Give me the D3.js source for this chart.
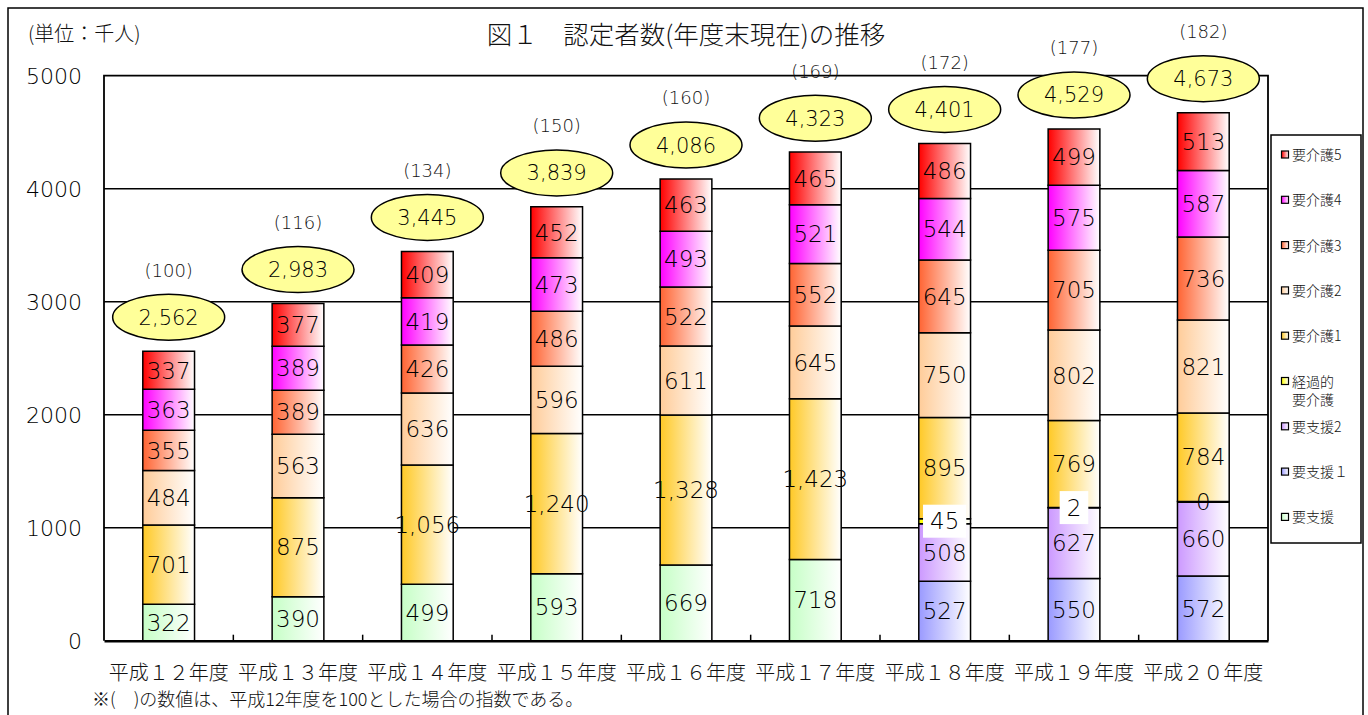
<!DOCTYPE html>
<html lang="ja">
<head>
<meta charset="utf-8">
<title>図１ 認定者数の推移</title>
<script src="https://cdn.jsdelivr.net/npm/d3@7/dist/d3.min.js"></script>
<style>
  html, body { margin: 0; padding: 0; background: #fff; }
  svg { display: block; }
  .jp { font-family: "Noto Sans CJK JP", "Noto Sans", sans-serif; font-weight: 300; }
  .num { font-family: "DejaVu Sans", "Noto Sans", sans-serif; font-weight: 300; }
</style>
</head>
<body>
<svg id="chart" width="1368" height="715"></svg>
<script>
/* ============================================================
   図１ 認定者数(年度末現在)の推移 — stacked bars
   ============================================================ */
const years = ['平成１２年度', '平成１３年度', '平成１４年度', '平成１５年度', '平成１６年度',
  '平成１７年度', '平成１８年度', '平成１９年度', '平成２０年度'];

// values in 千人, bottom to top of each bar (null = category not in use that year)
const yoshien  = [322, 390, 499, 593, 669, 718, null, null, null];
const yoshien1 = [null, null, null, null, null, null, 527, 550, 572];
const yoshien2 = [null, null, null, null, null, null, 508, 627, 660];
const keika    = [null, null, null, null, null, null, 45, 2, 0];
const kaigo1   = [701, 875, 1056, 1240, 1328, 1423, 895, 769, 784];
const kaigo2   = [484, 563, 636, 596, 611, 645, 750, 802, 821];
const kaigo3   = [355, 389, 426, 486, 522, 552, 645, 705, 736];
const kaigo4   = [363, 389, 419, 473, 493, 521, 544, 575, 587];
const kaigo5   = [337, 377, 409, 452, 463, 465, 486, 499, 513];

// totals and index as printed on the chart
const totals  = [2562, 2983, 3445, 3839, 4086, 4323, 4401, 4529, 4673];
const indexes = [100, 116, 134, 150, 160, 169, 172, 177, 182];

const yTicks = [0, 1000, 2000, 3000, 4000, 5000];

const series = [
  { key: 'yoshien',  name: '要支援',   values: yoshien,  color: '#c6ffc6' },
  { key: 'yoshien1', name: '要支援１', values: yoshien1, color: '#9a9aff' },
  { key: 'yoshien2', name: '要支援2',  values: yoshien2, color: '#cc99ff' },
  { key: 'keika',    name: '経過的要介護', values: keika, color: '#ffff00' },
  { key: 'kaigo1',   name: '要介護1',  values: kaigo1,   color: '#ffc926' },
  { key: 'kaigo2',   name: '要介護2',  values: kaigo2,   color: '#ffcc99' },
  { key: 'kaigo3',   name: '要介護3',  values: kaigo3,   color: '#ff6433' },
  { key: 'kaigo4',   name: '要介護4',  values: kaigo4,   color: '#ff00ff' },
  { key: 'kaigo5',   name: '要介護5',  values: kaigo5,   color: '#ff0000' },
];

const plot = { left: 104, right: 1268, top: 75.7, bottom: 640.7 };

const svg = d3.select('#chart');

// outer frame
svg.append('rect')
  .attr('x', 8).attr('y', 8).attr('width', 1355).attr('height', 720)
  .attr('fill', '#fff').attr('stroke', '#000').attr('stroke-width', 1.5);

// gradients: colour on the left fading to white on the right
const defs = svg.append('defs');
series.forEach(s => {
  const g = defs.append('linearGradient').attr('id', `grad-${s.key}`)
    .attr('x1', 0).attr('x2', 1).attr('y1', 0).attr('y2', 0);
  g.append('stop').attr('offset', '0%').attr('stop-color', s.color);
  g.append('stop').attr('offset', '100%').attr('stop-color', '#fff');
});

const x = d3.scaleBand().domain(years)
  .range([plot.left, plot.right]).paddingInner(0.6).paddingOuter(0.3);
const y = d3.scaleLinear().domain([0, 5000]).range([plot.bottom, plot.top]);

// stack
const rows = years.map((yr, i) => {
  const r = { year: yr };
  series.forEach(s => { r[s.key] = s.values[i] || 0; });
  return r;
});
const stacked = d3.stack().keys(series.map(s => s.key))(rows);

// gridlines
svg.append('g').selectAll('line')
  .data(yTicks.filter(t => t > 0 && t < 5000))
  .enter().append('line')
  .attr('x1', plot.left).attr('x2', plot.right)
  .attr('y1', d => y(d)).attr('y2', d => y(d))
  .attr('stroke', '#000').attr('stroke-width', 1.5);

// plot border
svg.append('path')
  .attr('d', `M${plot.left},${plot.bottom}V${plot.top}H${plot.right}V${plot.bottom}`)
  .attr('fill', 'none').attr('stroke', '#000').attr('stroke-width', 1.8);

// y axis labels
svg.append('g').attr('class', 'num').selectAll('text')
  .data(yTicks).enter().append('text')
  .attr('x', 82).attr('y', d => y(d)).attr('dy', '0.36em')
  .attr('text-anchor', 'end').attr('font-size', 22).attr('fill', '#000')
  .text(d => d);

// x axis line + inward ticks between categories
const xAxis = svg.append('g').attr('transform', `translate(0,${plot.bottom})`)
  .call(d3.axisBottom(x).tickSize(0).tickFormat(''));
xAxis.select('.domain').attr('stroke', '#000').attr('stroke-width', 2.5);
svg.append('g').selectAll('line')
  .data(years.slice(1)).enter().append('line')
  .attr('x1', d => x(d) - x.step() * x.paddingInner() / 2)
  .attr('x2', d => x(d) - x.step() * x.paddingInner() / 2)
  .attr('y1', plot.bottom).attr('y2', plot.bottom - 6)
  .attr('stroke', '#000').attr('stroke-width', 1.5);

// x labels
svg.append('g').attr('class', 'jp').selectAll('text')
  .data(years).enter().append('text')
  .attr('x', d => x(d) + x.bandwidth() / 2).attr('y', 673).attr('dy', '0.35em')
  .attr('text-anchor', 'middle').attr('font-size', 20).attr('fill', '#111')
  .text(d => d);

// bar segments (path so a zero-height segment still draws its border)
const segs = [];
stacked.forEach((layer, si) => {
  layer.forEach((d, i) => {
    if (series[si].values[i] == null) return;
    segs.push({ s: series[si], year: years[i], y0: d[0], y1: d[1], v: series[si].values[i] });
  });
});

svg.append('g').selectAll('path')
  .data(segs).enter().append('path')
  .attr('d', d => {
    const x0 = x(d.year), w = x.bandwidth();
    const top = y(d.y1), h = y(d.y0) - y(d.y1);
    return `M${x0},${top}h${w}v${h}h${-w}Z`;
  })
  .attr('fill', d => `url(#grad-${d.s.key})`)
  .attr('stroke', '#000').attr('stroke-width', d => d.v === 0 ? 3 : 1.5);

// segment labels
const fmt = d3.format(',');
const lab = svg.append('g').attr('class', 'num');
segs.forEach(d => {
  const cx = x(d.year) + x.bandwidth() / 2;
  const cy = y((d.y0 + d.y1) / 2);
  const t = lab.append('text')
    .attr('x', cx).attr('y', cy).attr('dy', '0.36em')
    .attr('text-anchor', 'middle').attr('font-size', 23).attr('fill', '#000')
    .text(fmt(d.v));
  if (d.s.key === 'keika' && d.v > 0) {
    const bb = t.node().getBBox();
    lab.insert('rect', () => t.node())
      .attr('x', bb.x - 7).attr('y', cy - 16.5)
      .attr('width', bb.width + 14).attr('height', 33)
      .attr('fill', '#fff');
  }
});

// totals in yellow ellipses, index above
const callouts = svg.append('g');
years.forEach((yr, i) => {
  const cx = x(yr) + x.bandwidth() / 2;
  const cy = y(totals[i]) - 34;
  callouts.append('ellipse')
    .attr('cx', cx).attr('cy', cy).attr('rx', 56).attr('ry', 23)
    .attr('fill', '#ffff99').attr('stroke', '#000').attr('stroke-width', 1.5);
  callouts.append('text').attr('class', 'num')
    .attr('x', cx).attr('y', cy).attr('dy', '0.36em')
    .attr('text-anchor', 'middle').attr('font-size', 21).attr('fill', '#000')
    .text(fmt(totals[i]));
  callouts.append('text').attr('class', 'num')
    .attr('x', cx).attr('y', cy - 47).attr('dy', '0.36em')
    .attr('text-anchor', 'middle').attr('font-size', 18).attr('fill', '#111')
    .text(`(${indexes[i]})`);
});

// legend
const legend = svg.append('g').attr('class', 'jp');
legend.append('rect')
  .attr('x', 1271).attr('y', 135).attr('width', 90).attr('height', 408)
  .attr('fill', '#fff').attr('stroke', '#000').attr('stroke-width', 1.5);
series.slice().reverse().forEach((s, i) => {
  const ly = 155 + i * 45.3;
  legend.append('rect')
    .attr('x', 1281.5).attr('y', ly - 4).attr('width', 7).attr('height', 7)
    .attr('fill', `url(#grad-${s.key})`).attr('stroke', '#000').attr('stroke-width', 1.2);
  const t = legend.append('text')
    .attr('x', 1292).attr('y', ly).attr('dy', '0.36em')
    .attr('font-size', 14).attr('fill', '#111');
  if (s.key === 'keika') {
    t.append('tspan').text('経過的');
    t.append('tspan').attr('x', 1292).attr('dy', '1.3em').text('要介護');
  } else {
    t.text(s.name);
  }
});

// title, unit and footnote
svg.append('text').attr('class', 'jp')
  .attr('x', 686).attr('y', 35).attr('dy', '0.35em')
  .attr('text-anchor', 'middle').attr('font-size', 25.5).attr('fill', '#111')
  .text('図１　認定者数(年度末現在)の推移');
svg.append('text').attr('class', 'jp')
  .attr('x', 28).attr('y', 34).attr('dy', '0.35em')
  .attr('font-size', 20).attr('fill', '#111')
  .text('(単位：千人)');
svg.append('text').attr('class', 'jp')
  .attr('x', 92).attr('y', 700).attr('dy', '0.35em')
  .attr('font-size', 18).attr('fill', '#111')
  .text('※(　)の数値は、平成12年度を100とした場合の指数である。');
</script>
</body>
</html>
